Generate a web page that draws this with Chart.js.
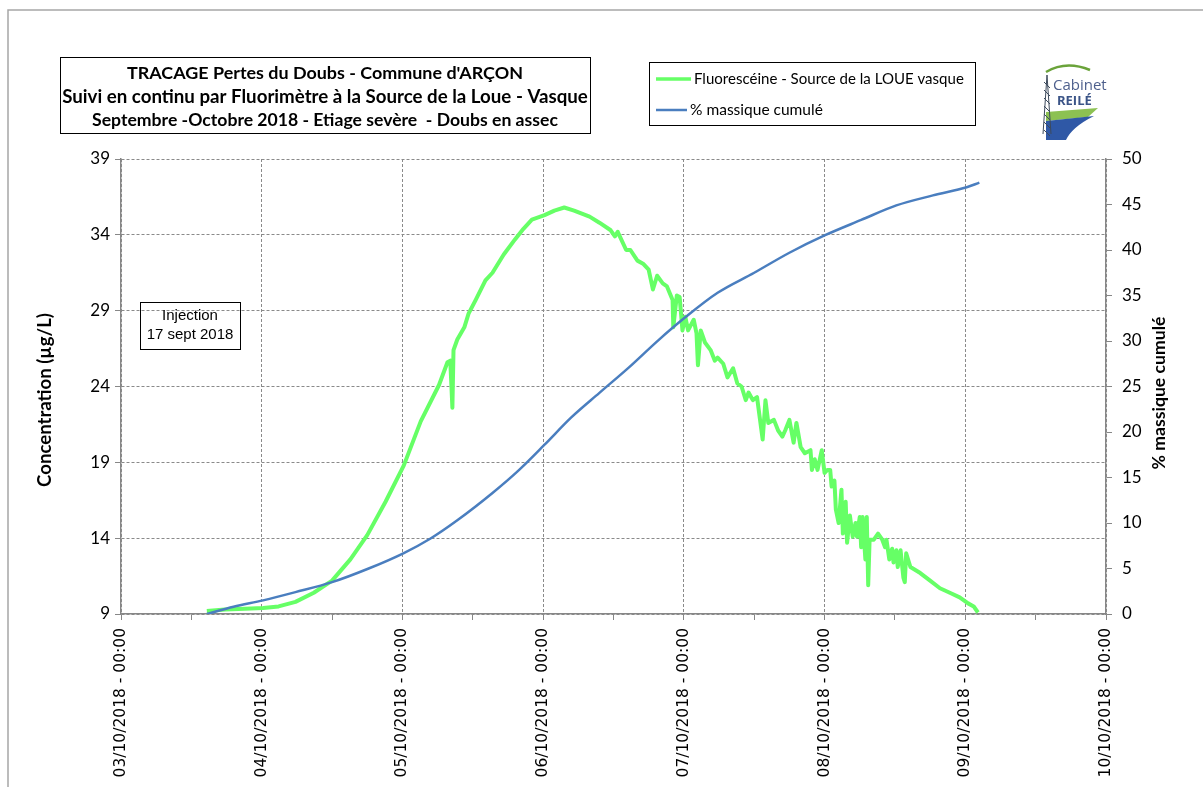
<!DOCTYPE html>
<html>
<head>
<meta charset="utf-8">
<script src="https://cdn.jsdelivr.net/npm/chart.js@4/dist/chart.umd.min.js"></script>
<style>
html, body { margin:0; padding:0; background:#fff; }
</style>
</head>
<body>
<canvas id="chart" width="1203" height="787"></canvas>
<script>
//data (x = days since 03/10/2018 00:00)

var xTickLabels = ["03/10/2018 - 00:00","04/10/2018 - 00:00","05/10/2018 - 00:00","06/10/2018 - 00:00",
  "07/10/2018 - 00:00","08/10/2018 - 00:00","09/10/2018 - 00:00","10/10/2018 - 00:00"]

var greenDays = [0.61,0.74,0.88,1.01,1.12,1.24,1.37,1.50,1.63,1.75,1.88,2.01,2.13,2.26,2.32,2.34,2.355,2.363,2.39,2.44,
  2.47,2.52,2.59,2.64,2.72,2.80,2.86,2.92,3.01,3.08,3.15,3.22,3.33,3.40,3.48,3.51,3.53,3.59,3.62,3.67,3.71,
  3.75,3.78,3.81,3.85,3.88,3.92,3.925,3.95,3.97,3.99,4.01,4.03,4.07,4.09,4.10,4.12,4.15,4.19,4.22,4.24,
  4.28,4.31,4.35,4.38,4.41,4.44,4.46,4.49,4.52,4.56,4.58,4.60,4.64,4.67,4.70,4.72,4.75,4.78,4.80,4.83,
  4.86,4.90,4.91,4.93,4.95,4.98,5.00,5.02,5.04,5.05,5.07,5.08,5.10,5.12,5.13,5.15,5.16,5.18,5.20,5.22,
  5.23,5.25,5.26,5.27,5.29,5.30,5.31,5.32,5.35,5.38,5.41,5.43,5.44,5.46,5.48,5.49,5.51,5.52,5.54,5.56,
  5.57,5.58,5.61,5.68,5.75,5.82,5.89,5.96,6.02,6.06,6.09]
var greenConc = [9.2,9.3,9.35,9.4,9.5,9.8,10.4,11.2,12.6,14.2,16.4,18.8,21.7,24.1,25.6,25.7,22.6,26.4,27.1,27.9,
  28.8,29.7,31.0,31.5,32.7,33.7,34.4,35.0,35.3,35.6,35.8,35.6,35.2,34.8,34.3,33.9,34.2,33.0,33.0,32.3,32.1,
  31.7,30.4,31.3,30.8,30.6,29.7,27.9,30.0,29.9,27.7,28.6,27.7,28.4,27.5,25.4,27.7,26.9,26.4,25.7,25.9,
  25.5,24.6,25.2,24.2,24.0,23.1,23.6,23.1,23.3,20.5,23.1,21.6,21.8,21.1,20.7,21.1,21.8,20.3,21.6,20.0,
  19.6,19.8,18.5,19.2,18.5,19.8,18.3,18.5,18.5,17.4,17.8,15.9,15.0,17.2,14.3,16.4,13.7,15.5,14.1,15.0,
  14.1,15.4,13.4,15.4,12.6,15.4,10.9,13.9,13.9,14.3,13.9,13.4,13.9,12.6,13.3,12.4,13.2,12.1,13.2,11.4,
  11.1,13.0,12.1,11.7,11.2,10.7,10.4,10.1,9.7,9.5,9.1]

var cumDays = [0.61,0.80,1.01,1.24,1.50,1.76,2.01,2.20,2.39,2.64,2.82,3.01,3.20,3.40,3.61,3.82,4.01,4.24,4.50,4.75,
  5.00,5.26,5.51,5.77,6.01,6.10]
var cumPct = [0,0.8,1.5,2.4,3.5,5.0,6.7,8.3,10.3,13.3,15.7,18.6,21.6,24.3,27.1,30.1,32.6,35.3,37.5,39.7,
  41.6,43.3,44.9,46.0,46.9,47.4]

var titleLines = ["TRACAGE Pertes du Doubs - Commune d'ARÇON",
  "Suivi en continu par Fluorimètre à la Source de la Loue - Vasque",
  "Septembre -Octobre 2018 - Etiage sevère  - Doubs en assec"]

var greenPts = greenDays.map(function(d, i){ return {x: d, y: greenConc[i]} })
var cumPts = cumDays.map(function(d, i){ return {x: d, y: cumPct[i]} })

var gridGrey = "#8a8a8a"
var axisGrey = "#878787"

//text squeezed to a width like excel did
function fitFont(ctx, text, weight, family, size, width){
  ctx.font = weight + " " + size + "px " + family
  var w = ctx.measureText(text).width
  var s = size * width / w
  ctx.font = weight + " " + s.toFixed(2) + "px " + family
}

var decor = {
  id: "decor",
  beforeDraw: function(chart){
    var ctx = chart.ctx
    ctx.save()
    ctx.fillStyle = "#fff"
    ctx.fillRect(0, 0, chart.width, chart.height)
    //outer frame
    ctx.strokeStyle = "#a6a6a6"
    ctx.lineWidth = 1.5
    ctx.strokeRect(8, 10, 1400, 1000)
    ctx.restore()
  },
  afterDraw: function(chart){
    var ctx = chart.ctx
    ctx.save()
    ctx.fillStyle = "#000"
    ctx.strokeStyle = "#000"
    ctx.lineWidth = 1

    //title box
    ctx.strokeRect(60.5, 57.5, 530, 76)
    ctx.textAlign = "center"
    ctx.textBaseline = "middle"
    var ys = [73, 97, 120]
    var ws = [396, 526, 466]
    for (var i = 0; i < titleLines.length; i++){
      fitFont(ctx, titleLines[i], "bold", "Lato", 16, ws[i])
      ctx.fillText(titleLines[i], 325, ys[i])
    }

    //legend box
    ctx.strokeRect(649.5, 62.5, 326, 63)
    var ds = chart.data.datasets
    var leg = [{d: ds[1], y: 79, x: 694, w: 270}, {d: ds[0], y: 110, x: 690, w: 133}]
    leg.forEach(function(l){
      ctx.strokeStyle = l.d.borderColor
      ctx.lineWidth = l.d === ds[1] ? 3.5 : 2.5
      ctx.beginPath()
      ctx.moveTo(656, l.y)
      ctx.lineTo(l.x - 3, l.y)
      ctx.stroke()
      ctx.textAlign = "left"
      fitFont(ctx, l.d.label, "normal", "Lato", 14, l.w)
      ctx.fillStyle = "#000"
      ctx.fillText(l.d.label, l.x, l.y)
    })

    //injection note
    ctx.strokeStyle = "#000"
    ctx.lineWidth = 1
    ctx.strokeRect(140.5, 302.5, 100, 47)
    ctx.textAlign = "center"
    ctx.font = "15px 'Liberation Sans'"
    ctx.fillText("Injection", 190, 316)
    ctx.fillText("17 sept 2018", 190, 335)

    //axis titles
    ctx.save()
    ctx.translate(45, 400)
    ctx.rotate(-Math.PI / 2)
    fitFont(ctx, "Concentration (µg/L)", "bold", "Lato", 16, 174)
    ctx.fillText("Concentration (µg/L)", 0, 0)
    ctx.restore()
    ctx.save()
    ctx.translate(1159, 393)
    ctx.rotate(-Math.PI / 2)
    fitFont(ctx, "% massique cumulé", "bold", "Lato", 16, 153)
    ctx.fillText("% massique cumulé", 0, 0)
    ctx.restore()

    //logo
    ctx.strokeStyle = "#6aa33a"
    ctx.lineWidth = 2.5
    ctx.beginPath()
    ctx.moveTo(1046, 72)
    ctx.quadraticCurveTo(1066, 60, 1090, 70)
    ctx.stroke()
    ctx.fillStyle = "#8cc152"
    ctx.beginPath()
    ctx.moveTo(1046, 112)
    ctx.lineTo(1098, 108)
    ctx.lineTo(1088, 117)
    ctx.lineTo(1046, 121)
    ctx.closePath()
    ctx.fill()
    ctx.fillStyle = "#2f58a6"
    ctx.beginPath()
    ctx.moveTo(1046, 121)
    ctx.lineTo(1094, 116)
    ctx.quadraticCurveTo(1072, 127, 1066, 140)
    ctx.lineTo(1046, 140)
    ctx.closePath()
    ctx.fill()
    ctx.strokeStyle = "#3d4a5c"
    ctx.lineWidth = 1
    ctx.beginPath()
    ctx.moveTo(1043, 134); ctx.lineTo(1047, 75); ctx.lineTo(1051, 134)
    for (var yy = 82; yy < 132; yy += 8){
      ctx.moveTo(1044, yy); ctx.lineTo(1050, yy + 6)
    }
    ctx.stroke()
    ctx.fillStyle = "#4d5f8c"
    ctx.textAlign = "left"
    ctx.font = "15px 'Open Sans'"
    ctx.fillText("Cabinet", 1053, 86)
    ctx.font = "bold 13px 'Open Sans'"
    ctx.fillStyle = "#3b5487"
    ctx.fillText("REILÉ", 1057, 101)
    ctx.restore()
  }
}

var chart = new Chart(document.getElementById("chart").getContext("2d"), {
  type: "line",
  data: {
    datasets: [
      {
        label: "% massique cumulé",
        data: cumPts,
        yAxisID: "y2",
        borderColor: "#4a7ebf",
        borderWidth: 2.5,
        pointRadius: 0,
        cubicInterpolationMode: "monotone",
        fill: false
      },
      {
        label: "Fluorescéine - Source de la LOUE vasque",
        data: greenPts,
        yAxisID: "y",
        borderColor: "#66ff66",
        borderWidth: 4,
        pointRadius: 0,
        tension: 0,
        borderJoinStyle: "round",
        fill: false
      }
    ]
  },
  options: {
    responsive: false,
    animation: false,
    devicePixelRatio: 1,
    layout: { padding: { top: 159, left: 0, right: 0, bottom: 0 } },
    plugins: { legend: { display: false }, tooltip: { enabled: false } },
    scales: {
      x: {
        type: "linear",
        min: 0,
        max: 7,
        afterFit: function(s){ s.height = 173 },
        ticks: {
          stepSize: 0.5,
          autoSkip: false,
          minRotation: 90,
          maxRotation: 90,
          padding: 8,
          color: "#000",
          font: { family: "DejaVu Sans", size: 15.5 },
          callback: function(value){
            return Number.isInteger(value) ? xTickLabels[value] : ""
          }
        },
        grid: {
          color: function(c){ return (c.tick && Number.isInteger(c.tick.value)) ? gridGrey : "rgba(0,0,0,0)" },
          tickColor: axisGrey,
          tickLength: 6,
          lineWidth: 1
        },
        border: { color: axisGrey, width: 1.5, dash: [3, 2] }
      },
      y: {
        position: "left",
        min: 9,
        max: 39,
        afterFit: function(s){ s.width = 121 },
        ticks: {
          stepSize: 5,
          padding: 5,
          color: "#000",
          font: { family: "Lato", size: 17 }
        },
        grid: { color: gridGrey, tickColor: axisGrey, tickLength: 6, lineWidth: 1 },
        border: { color: axisGrey, width: 1.5, dash: [3, 2] }
      },
      y2: {
        position: "right",
        min: 0,
        max: 50,
        afterFit: function(s){ s.width = 97 },
        ticks: {
          stepSize: 5,
          padding: 10,
          color: "#000",
          font: { family: "Lato", size: 17 }
        },
        grid: { drawOnChartArea: false, color: axisGrey, tickLength: 6 },
        border: { color: axisGrey, width: 1.5 }
      }
    }
  },
  plugins: [decor]
});
</script>
</body>
</html>
